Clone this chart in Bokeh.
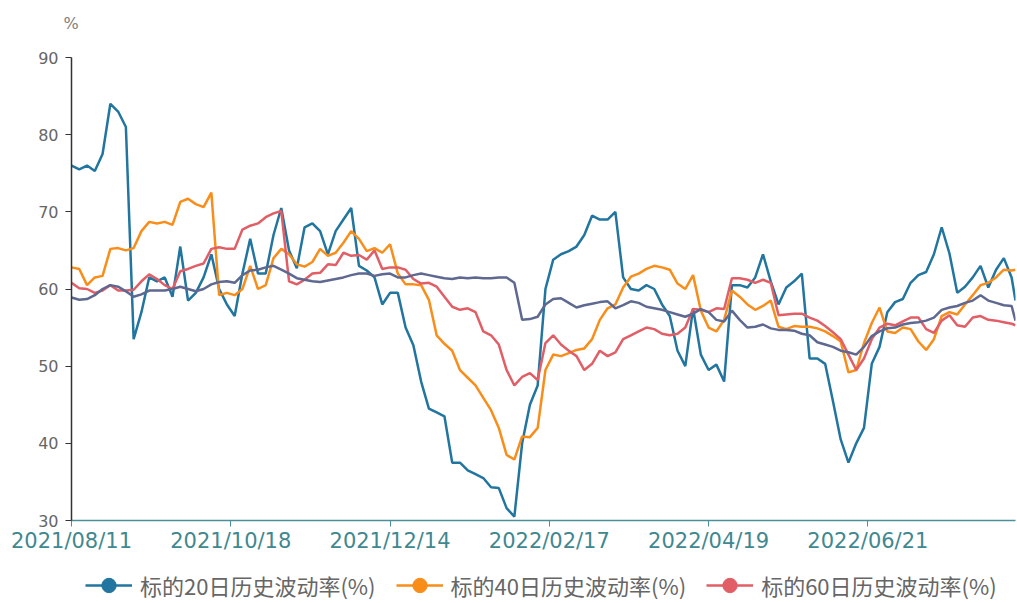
from bokeh.plotting import figure
from bokeh.models import FixedTicker, Legend, LegendItem, Range1d
from bokeh.layouts import column
from bokeh.embed import file_html
from bokeh.resources import INLINE

FONT = "Noto Sans CJK SC"
NUM_FONT = "DejaVu Sans"

tick_labels = ["2021/08/11", "2021/10/18", "2021/12/14", "2022/02/17", "2022/04/19", "2022/06/21"]
tick_index = [0, 41, 82, 123, 164, 205]

# trading-day index of each sample
day_index = list(range(0, 243, 2)) + [243]

vol20 = [
    76, 75.5, 76, 75.3, 77.5, 84, 83, 81, 53.5, 57,
    61.5, 61, 61.5, 59, 65.5, 58.5, 59.5, 61.5, 64.5, 60,
    58, 56.5, 62, 66.5, 62, 62, 67, 70.5, 65, 62.7,
    68, 68.5, 67.5, 64.5, 67.5, 69, 70.5, 63, 62.4, 61.5,
    58, 59.5, 59.5, 55, 52.7, 48, 44.5, 44, 43.5, 37.5,
    37.5, 36.5, 36, 35.5, 34.3, 34.2, 31.6, 30.5, 40, 45,
    47.5, 60, 63.8, 64.5, 64.9, 65.5, 67, 69.5, 69, 69,
    70, 61.5, 60, 59.8, 60.5, 60, 58, 56.5, 52, 50,
    57.5, 51.5, 49.5, 50.2, 48, 60.5, 60.5, 60.2, 61.5, 64.5,
    61, 58, 60.2, 61, 62, 51, 51, 50.3, 45.5, 40.5,
    37.5, 40, 42, 50.3, 52.5, 57, 58.3, 58.7, 60.8, 61.8,
    62.2, 64.5, 68, 64.6, 59.5, 60.3, 61.5, 63, 60.2, 62.5,
    64, 61.5, 58.5,
]

vol40 = [
    62.8, 62.6, 60.5, 61.5, 61.7, 65.2, 65.3, 65, 65.3, 67.5,
    68.7, 68.5, 68.7, 68.3, 71.3, 71.7, 71, 70.6, 72.5, 59.2,
    59.5, 59.2, 60, 63, 60, 60.5, 64, 65.2, 64.5, 63.2,
    62.9, 63.5, 65.2, 64.3, 64.7, 66, 67.5, 66.5, 64.9, 65.3,
    64.7, 65.8, 62, 60.6, 60.6, 60.5, 58.6, 54, 52.9, 52,
    49.5, 48.5, 47.5, 45.9, 44.3, 42, 38.5, 37.9, 40.9, 40.8,
    42, 49.5, 51.5, 51.3, 51.7, 52.1, 52.3, 53.5, 56, 57.5,
    58, 60.2, 61.6, 62, 62.6, 63, 62.8, 62.5, 60.7, 60,
    61.8, 57.2, 55, 54.5, 56, 59.8, 59, 58, 57.3, 57.8,
    58.5, 55.1, 54.8, 55.2, 55.1, 55.1, 54.9, 54.5, 53.9, 53.2,
    49.2, 49.5, 53, 55.6, 57.6, 54.5, 54.3, 55, 54.8, 53.2,
    52.1, 53.5, 56.5, 57, 56.7, 58, 59.2, 60.5, 60.8, 61.5,
    62.5, 62.4, 62.5,
]

vol60 = [
    60.8, 60.1, 60, 59.5, 59.8, 60.5, 59.8, 59.8, 59.9, 61,
    61.9, 61.3, 60.5, 60, 62.3, 62.6, 63, 63.3, 65.2, 65.4,
    65.2, 65.2, 67.7, 68.2, 68.5, 69.3, 69.8, 70.1, 61, 60.6,
    61.2, 62, 62.1, 63.2, 63.1, 64.7, 64.3, 64.4, 63.8, 65,
    62.6, 62.8, 62.8, 62.5, 61.3, 60.7, 60.8, 60.3, 59, 57.7,
    57.3, 57.5, 57, 54.5, 54, 52.8, 49.5, 47.5, 48.6, 49.1,
    48.2, 53, 54, 52.8, 52, 51.3, 49.5, 50.3, 52, 51.3,
    51.8, 53.5, 54, 54.5, 55, 54.8, 54.2, 54, 54.2, 55,
    57.4, 57.3, 57, 57.5, 57.4, 61.4, 61.4, 61.2, 60.8, 61.2,
    60.8, 56.6, 56.7, 56.8, 56.8, 56.3, 55.9, 55.2, 54.4, 53.5,
    51.5, 49.5, 51, 53.5, 55, 55.5, 55.3, 55.8, 56.3, 56.3,
    54.8, 54.3, 55.9, 56.6, 55.3, 55.1, 56.3, 56.5, 56, 55.9,
    55.7, 55.5, 55.3,
]

vol120 = [
    58.9, 58.6, 58.7, 59.2, 60, 60.5, 60.3, 59.7, 59, 59.3,
    59.8, 59.8, 59.8, 60, 60.3, 60, 59.7, 60, 60.6, 60.9,
    61, 60.8, 61.8, 62.4, 62.5, 62.8, 63, 62.5, 62, 61.4,
    61.2, 61, 60.9, 61.1, 61.3, 61.5, 61.8, 62, 62, 61.7,
    61.9, 62, 61.5, 61.5, 61.8, 62, 61.8, 61.6, 61.4, 61.3,
    61.5, 61.4, 61.5, 61.4, 61.4, 61.5, 61.5, 60.8, 56, 56.1,
    56.4, 58, 58.7, 58.8, 58.2, 57.6, 57.9, 58.1, 58.3, 58.4,
    57.5, 57.9, 58.4, 58.2, 57.7, 57.5, 57.3, 57, 56.7, 56.4,
    56.8, 57.4, 57, 56, 55.8, 57.2, 56, 55, 55.1, 55.4,
    54.9, 54.7, 54.7, 54.6, 54.2, 54, 53.1, 52.8, 52.5, 52,
    51.8, 51.5, 52.5, 53.9, 54.5, 54.9, 55, 55.4, 55.6, 55.7,
    55.9, 56.3, 57.3, 57.6, 57.8, 58.2, 58.5, 59.2, 58.5, 58.2,
    57.9, 57.8, 55.9,
]

series_names = ["标的20日历史波动率(%)", "标的40日历史波动率(%)", "标的60日历史波动率(%)"]
colors = ["#21759f", "#f98d1a", "#e15e66", "#5e6890"]
unit_text = "%"


def bare_strip(h, title=None):
    f = figure(width=1017, height=h, output_backend="svg", toolbar_location=None,
               x_range=Range1d(0, 1), y_range=Range1d(0, 1), min_border=0,
               x_axis_location=None, y_axis_location=None, title=title)
    f.grid.visible = False
    f.outline_line_color = None
    f.background_fill_color = "white"
    f.border_fill_color = "white"
    return f


# unit label strip above the chart
tf = bare_strip(50, title=unit_text)
tf.title.text_font = NUM_FONT
tf.title.text_font_size = "16px"
tf.title.text_font_style = "normal"
tf.title.text_color = "#808080"
tf.title.align = "left"
tf.title.offset = -8
tf.title.standoff = 22

p = figure(width=1017, height=505, output_backend="svg", toolbar_location=None,
           x_range=Range1d(0, 243), y_range=Range1d(30, 90),
           min_border_left=71, min_border_right=2, min_border_top=7, min_border_bottom=35)
p.outline_line_color = None
p.grid.visible = False
p.background_fill_color = "white"
p.border_fill_color = "white"

# y axis
ya = p.yaxis[0]
ya.ticker = FixedTicker(ticks=[30, 40, 50, 60, 70, 80, 90])
ya.axis_line_color = "#333333"
ya.axis_line_width = 1.5
ya.major_tick_line_color = "#333333"
ya.major_tick_out = 6
ya.major_tick_in = 0
ya.minor_tick_line_color = None
ya.major_label_text_color = "#666666"
ya.major_label_text_font = NUM_FONT
ya.major_label_text_font_size = "16px"
ya.major_label_standoff = 7

# x axis
xa = p.xaxis[0]
xa.ticker = FixedTicker(ticks=tick_index)
xa.major_label_overrides = {i: t for i, t in zip(tick_index, tick_labels)}
xa.axis_line_color = "#4b9098"
xa.axis_line_width = 1.5
xa.major_tick_line_color = "#4b9098"
xa.major_tick_out = 6
xa.major_tick_in = 0
xa.minor_tick_line_color = None
xa.major_label_text_color = "#3f8890"
xa.major_label_text_font = NUM_FONT
xa.major_label_text_font_size = "21px"
xa.major_label_standoff = 2

p.line(day_index, vol20, line_color=colors[0], line_width=2.5)
p.line(day_index, vol40, line_color=colors[1], line_width=2.5)
p.line(day_index, vol60, line_color=colors[2], line_width=2.5)
p.line(day_index, vol120, line_color=colors[3], line_width=2.5)

# legend strip below the chart (its frame is aligned with the chart frame)
lf = bare_strip(48)
items = []
for name, c in zip(series_names, colors[:3]):
    lr = lf.line([5, 6], [5, 6], line_color=c, line_width=2.5)
    sr = lf.scatter([5], [5], size=16, color=c)
    items.append(LegendItem(label=name, renderers=[lr, sr]))

legend = Legend(items=items, location=(14, 0), orientation="horizontal",
                glyph_width=47, glyph_height=36, label_standoff=8, spacing=20,
                padding=0, margin=0, border_line_color=None, background_fill_alpha=0,
                label_text_font=FONT, label_text_font_size="22px",
                label_text_color="#666666", label_height=36)
lf.add_layout(legend, "center")

open("out.html", "w").write(file_html(column(tf, p, lf), INLINE))
